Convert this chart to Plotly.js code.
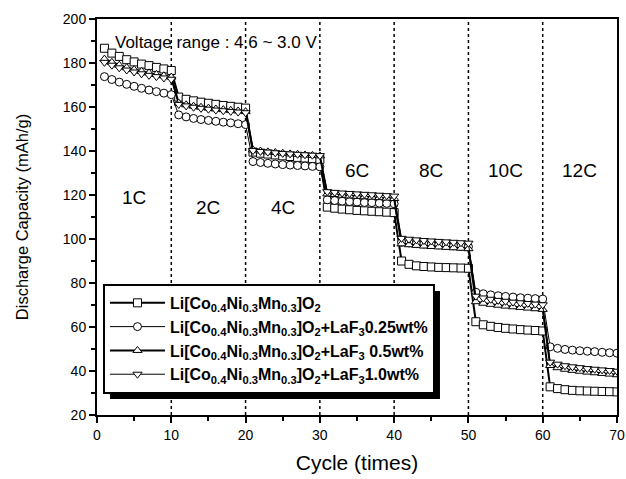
<!DOCTYPE html>
<html><head><meta charset="utf-8">
<script src="https://cdn.plot.ly/plotly-3.0.1.min.js"></script>
<style>html,body{margin:0;padding:0;background:#fff}#chart{width:626px;height:479px}</style>
</head><body><div id="chart"></div>
<script>
// cycles 1..70
const cycles = [];
for (let i = 1; i <= 70; i++) cycles.push(i);

const bare = [
 186.7,184.5,183.0,181.5,180.5,179.5,178.8,178.0,177.3,176.6,
 164.5,163.5,162.8,162.2,161.7,161.2,160.7,160.3,159.9,159.5,
 139.5,139.0,138.6,138.2,137.8,137.5,137.1,136.8,136.5,136.2,
 114.5,114.0,113.6,113.3,113.0,112.8,112.6,112.4,112.2,112.0,
 90.0,88.5,87.8,87.5,87.3,87.1,87.0,86.9,86.8,86.7,
 62.4,61.0,60.3,59.8,59.4,59.1,58.8,58.6,58.4,58.2,
 32.8,32.0,31.5,31.2,31.0,30.9,30.8,30.7,30.6,30.5];
const laf025 = [
 173.8,172.5,171.3,170.3,169.4,168.5,167.7,167.0,166.3,165.6,
 156.4,155.5,154.8,154.3,153.9,153.5,153.1,152.8,152.4,152.0,
 135.2,134.8,134.4,134.1,133.8,133.6,133.4,133.2,133.0,132.8,
 117.8,117.5,117.2,117.0,116.8,116.6,116.5,116.3,116.2,116.0,
 98.5,98.2,97.9,97.7,97.5,97.3,97.1,96.9,96.7,96.5,
 75.8,75.1,74.6,74.2,73.9,73.6,73.3,73.1,72.9,72.7,
 51.0,50.3,49.8,49.5,49.2,49.0,48.8,48.5,48.3,48.1];
const laf05 = [
 181.8,180.3,179.0,177.9,177.0,176.2,175.5,174.8,174.2,173.6,
 161.8,161.0,160.4,159.9,159.5,159.1,158.8,158.5,158.2,157.9,
 140.5,140.0,139.6,139.3,139.0,138.7,138.5,138.2,138.0,137.8,
 120.5,120.2,119.9,119.6,119.4,119.2,119.0,118.8,118.6,118.4,
 97.8,97.4,97.1,96.8,96.6,96.4,96.2,96.0,95.8,95.6,
 71.5,70.8,70.3,69.9,69.5,69.2,68.9,68.6,68.3,68.0,
 42.5,41.5,40.8,40.3,39.9,39.5,39.2,38.9,38.6,38.3];
const laf10 = [
 180.3,179.0,177.8,176.8,175.9,175.1,174.4,173.8,173.2,172.6,
 161.2,160.5,159.9,159.4,159.0,158.6,158.3,158.0,157.7,157.4,
 140.2,139.8,139.5,139.2,138.9,138.7,138.5,138.3,138.1,137.9,
 121.5,121.2,120.9,120.7,120.5,120.3,120.1,119.9,119.7,119.5,
 100.3,99.9,99.6,99.3,99.1,98.9,98.7,98.5,98.3,98.1,
 74.0,73.2,72.6,72.1,71.7,71.3,71.0,70.7,70.4,70.1,
 44.0,43.1,42.4,41.9,41.5,41.1,40.8,40.5,40.2,39.9];

const seriesNames = [
 'Li[Co<sub>0.4</sub>Ni<sub>0.3</sub>Mn<sub>0.3</sub>]O<sub>2</sub>',
 'Li[Co<sub>0.4</sub>Ni<sub>0.3</sub>Mn<sub>0.3</sub>]O<sub>2</sub>+LaF<sub>3</sub>0.25wt%',
 'Li[Co<sub>0.4</sub>Ni<sub>0.3</sub>Mn<sub>0.3</sub>]O<sub>2</sub>+LaF<sub>3</sub> 0.5wt%',
 'Li[Co<sub>0.4</sub>Ni<sub>0.3</sub>Mn<sub>0.3</sub>]O<sub>2</sub>+LaF<sub>3</sub>1.0wt%'];
const rateLabels = ['1C','2C','4C','6C','8C','10C','12C'];
const rateX = [5,15,25,35,45,55,65];
const rateY = [119,114.5,114.5,131,131,131,131];
const dividers = [10,20,30,40,50,60];

const symbols = ['square','circle','triangle-up','triangle-down'];
const widths = [2,1,2,1];
const ys = [bare, laf025, laf05, laf10];

const traces = ys.map((y,i)=>({
  x: cycles, y: y, type:'scatter', mode:'lines+markers', name: seriesNames[i],
  line:{color:'#000', width: widths[i]},
  marker:{symbol: symbols[i], size: 8, color:'#fff', line:{color:'#000', width:1}}
}));

const shapes = dividers.map(d=>({type:'line', xref:'x', yref:'paper', x0:d, x1:d, y0:0, y1:1,
  line:{color:'#000', width:1.5, dash:'dot'}, layer:'below'}));

const annotations = rateLabels.map((t,i)=>({x:rateX[i], y:rateY[i], xref:'x', yref:'y', text:t,
  showarrow:false, font:{size:19, color:'#000'}}));
annotations.push({x:2.2, y:189.5, xref:'x', yref:'y', xanchor:'left', text:'Voltage range : 4.6 ~ 3.0 V',
  showarrow:false, font:{size:17, color:'#000'}});

const M = {l:97, r:9, t:19, b:64};
const layout = {
  width:626, height:479,
  margin:M,
  paper_bgcolor:'#fff', plot_bgcolor:'#fff',
  font:{family:'Arial, "Liberation Sans", sans-serif', color:'#000', size:14},
  showlegend:true,
  legend:{x:0.0115, y:0.331, xanchor:'left', yanchor:'top', bgcolor:'#fff',
    bordercolor:'#000', borderwidth:2, font:{size:16, family:'Arial, "Liberation Sans", sans-serif', weight:'bold'},
    tracegroupgap:0, itemwidth:55},
  xaxis:{range:[0,70], dtick:10, tick0:0, ticks:'outside', ticklen:6, tickwidth:2, tickcolor:'#000',
    showline:true, linewidth:2, linecolor:'#000', mirror:true, showgrid:false, zeroline:false,
    minor:{dtick:5, ticks:'outside', ticklen:4, tickwidth:2, tickcolor:'#000', showgrid:false},
    tickfont:{size:14}, title:{text:'Cycle (times)', font:{size:21}, standoff:14}},
  yaxis:{range:[20,200], dtick:20, tick0:20, ticks:'outside', ticklen:6, tickwidth:2, tickcolor:'#000',
    showline:true, linewidth:2, linecolor:'#000', mirror:true, showgrid:false, zeroline:false,
    minor:{dtick:10, ticks:'outside', ticklen:4, tickwidth:2, tickcolor:'#000', showgrid:false},
    tickfont:{size:14}, title:{text:'Discharge Capacity (mAh/g)', font:{size:16.5}, standoff:30}},
  shapes: shapes, annotations: annotations
};
Plotly.newPlot('chart', traces, layout, {displayModeBar:false, staticPlot:true}).then(gd=>{
  // add a drop shadow behind the legend box, sized from the rendered legend
  const bg = gd.querySelector('.legend .bg');
  const root = gd.getBoundingClientRect();
  const r = bg.getBoundingClientRect();
  const W = 626 - M.l - M.r, H = 479 - M.t - M.b;
  const off = 6;
  const px0 = r.left - root.left + off, px1 = r.right - root.left + off;
  const py0 = r.top - root.top + off, py1 = r.bottom - root.top + off;
  const sh = {type:'rect', xref:'paper', yref:'paper',
    x0:(px0 - M.l)/W, x1:(px1 - M.l)/W, y0:(479 - M.b - py1)/H, y1:(479 - M.b - py0)/H,
    fillcolor:'#000', line:{width:0}, layer:'above'};
  Plotly.relayout(gd, {shapes: shapes.concat([sh])});
});
</script></body></html>
